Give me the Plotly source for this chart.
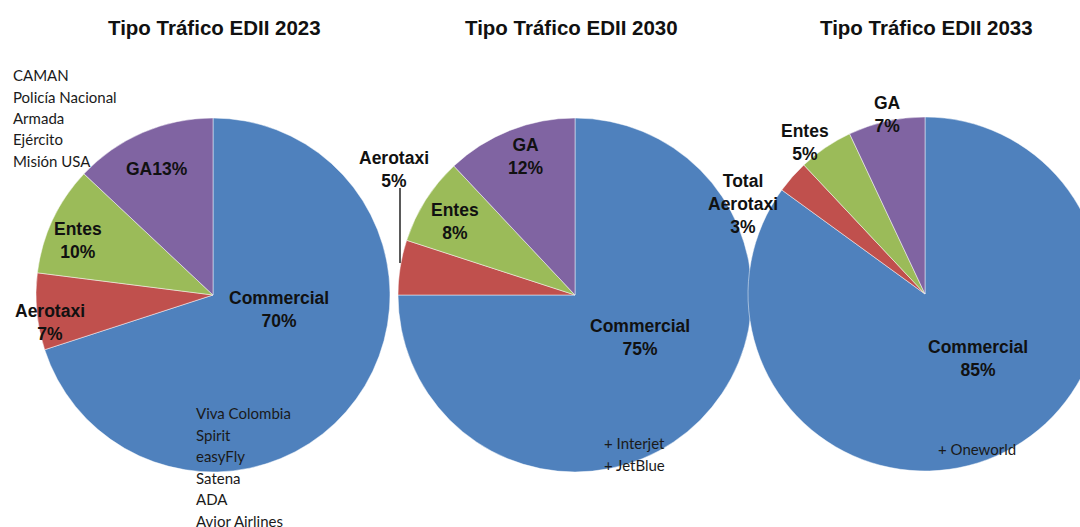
import plotly.graph_objects as go

# ---------------- data ----------------
years = ["2023", "2030", "2033"]
categories = ["Commercial", "Aerotaxi", "Entes", "GA"]
values_2023 = [70, 7, 10, 13]
values_2030 = [75, 5, 8, 12]
values_2033 = [85, 3, 5, 7]
# display names of each slice label (per chart); "{v}" replaced by value
label_fmt_2023 = ["Commercial<br>{v}%", "Aerotaxi<br>{v}%", "Entes<br>{v}%", "GA{v}%"]
label_fmt_2030 = ["Commercial<br>{v}%", "Aerotaxi<br>{v}%", "Entes<br>{v}%", "GA<br>{v}%"]
label_fmt_2033 = ["Commercial<br>{v}%", "Total<br>Aerotaxi<br>{v}%", "Entes<br>{v}%", "GA<br>{v}%"]
notes_2023_top = ["CAMAN", "Policía Nacional", "Armada", "Ejército", "Misión USA"]
notes_2023_bottom = ["Viva Colombia", "Spirit", "easyFly", "Satena", "ADA", "Avior Airlines"]
notes_2030 = ["+ Interjet", "+ JetBlue"]
notes_2033 = ["+ Oneworld"]

colors = ["#4F81BD", "#C0504D", "#9BBB59", "#8064A2"]

# ---------------- layout geometry (pixels) ----------------
W, H = 1103, 527
R = 177
centers = [(213, 295), (575, 295), (925, 294)]

def px(x):
    return x / W

def py(y):
    return 1 - y / H

fig = go.Figure()
all_values = [values_2023, values_2030, values_2033]
for (cx, cy), vals, yr in zip(centers, all_values, years):
    fig.add_trace(go.Pie(
        labels=categories, values=vals, sort=False, direction="clockwise",
        rotation=0, textinfo="none", name=yr,
        marker=dict(colors=colors, line=dict(color="rgba(255,255,255,0.8)", width=0.6)),
        domain=dict(x=[px(cx - R), px(cx + R)], y=[py(cy + R), py(cy - R)]),
        showlegend=False,
    ))

annotations = []
# titles
title_x = [214, 571, 926]
for yr, tx in zip(years, title_x):
    annotations.append(dict(
        text=f"<b>Tipo Tráfico EDII {yr}</b>", x=px(tx), y=py(28), xref="paper", yref="paper",
        showarrow=False, xanchor="center", yanchor="middle",
        font=dict(family="Liberation Sans, Arial", size=20.5, color="#111111"),
    ))

# slice labels (pixel positions of label centres)
label_pos = [
    [(279, 309), (50, 322), (78, 241), (157, 169)],
    [(640, 337), (394, 169), (455, 221), (525, 157)],
    [(978, 358), (743, 204), (805, 142), (887, 114)],
]
label_fmts = [label_fmt_2023, label_fmt_2030, label_fmt_2033]
for vals, fmts, poss in zip(all_values, label_fmts, label_pos):
    for v, f, (lx, ly) in zip(vals, fmts, poss):
        annotations.append(dict(
            text="<b>" + f.format(v=v) + "</b>", x=px(lx), y=py(ly),
            xref="paper", yref="paper", showarrow=False,
            xanchor="center", yanchor="middle", align="center",
            font=dict(family="Liberation Sans, Arial", size=17.5, color="#111111"),
        ))

# note lists
def add_notes(lines, x0, y0, step=21.5):
    for i, t in enumerate(lines):
        annotations.append(dict(
            text=t, x=px(x0), y=py(y0 + i * step), xref="paper", yref="paper",
            showarrow=False, xanchor="left", yanchor="middle",
            font=dict(family="Lato, Open Sans", size=15, color="#1a1a1a"),
        ))

add_notes(notes_2023_top, 11, 75)
add_notes(notes_2023_bottom, 194, 413)
add_notes(notes_2030, 602, 443)
add_notes(notes_2033, 936, 449)

fig.update_layout(
    width=W, height=H, margin=dict(l=0, r=0, t=0, b=0),
    paper_bgcolor="white", plot_bgcolor="white",
    annotations=annotations,
    shapes=[dict(type="line", xref="paper", yref="paper",
                 x0=px(400), x1=px(400), y0=py(188), y1=py(263),
                 line=dict(color="black", width=1.3), layer="above")],
)

fig.write_html(
    "out.html",
    post_script="document.documentElement.style.overflow='hidden';"
                "document.body.style.overflow='hidden';document.body.style.margin='0';",
)
